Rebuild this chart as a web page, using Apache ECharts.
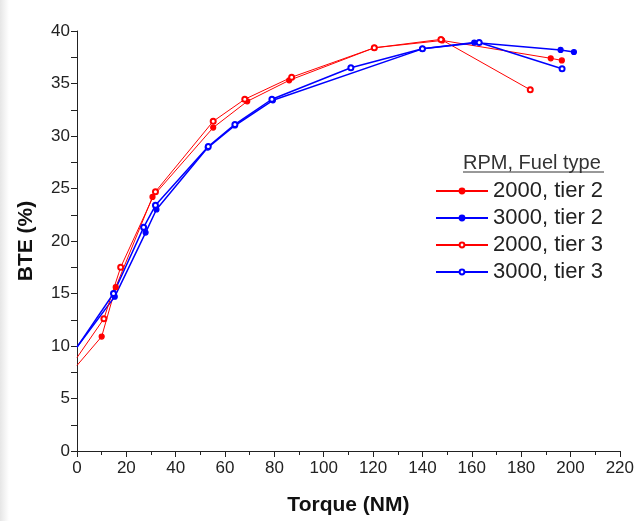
<!DOCTYPE html>
<html>
<head>
<meta charset="utf-8">
<script src="https://cdn.jsdelivr.net/npm/echarts@6/dist/echarts.min.js"></script>
<style>
  html, body { margin: 0; padding: 0; background: #fff; }
  #chart { width: 637px; height: 521px; background: linear-gradient(to right, #e6e6e6 0px, #fff 9px); }
</style>
</head>
<body>
<div id="chart"></div>
<script>
// torque (NM) and BTE (%)
var torque2000t2 = [0, 10, 15.7, 30.6, 55.2, 69, 86, 120.5, 148, 192, 196.5];
var bte2000t2 = [8.15, 10.9, 15.6, 24.2, 30.8, 33.3, 35.3, 38.4, 39.1, 37.4, 37.2];
var torque3000t2 = [0, 15.3, 27.8, 32.2, 53, 64, 79.4, 140, 161, 196, 201.4];
var bte3000t2 = [9.9, 14.7, 20.8, 23.0, 28.9, 31.0, 33.4, 38.3, 38.9, 38.2, 38.0];
var torque2000t3 = [0, 10.9, 17.7, 31.8, 55.2, 68, 87, 120.5, 147.5, 183.7];
var bte2000t3 = [8.9, 12.6, 17.5, 24.7, 31.4, 33.5, 35.6, 38.4, 39.2, 34.4];
var torque3000t3 = [0, 14.8, 27, 31.8, 53.2, 64, 79, 111, 140, 163, 196.6];
var bte3000t3 = [9.9, 15.0, 21.3, 23.4, 29.0, 31.1, 33.5, 36.5, 38.3, 38.9, 36.4];

var seriesNames = ['2000, tier 2', '3000, tier 2', '2000, tier 3', '3000, tier 3'];

function pts(xs, ys) {
    var list = [];
    for (var i = 0; i < xs.length; i++) {
        // first point is the line's start at the y axis, drawn without a marker
        if (i === 0) list.push({value: [xs[i], ys[i]], symbol: 'none'});
        else list.push([xs[i], ys[i]]);
    }
    return list;
}

function makeSeries(name, color, symbol, width, xs, ys) {
    return {
        name: name,
        type: 'line',
        symbol: symbol,
        symbolSize: 5,
        lineStyle: {color: color, width: width},
        itemStyle: {color: color, borderColor: color, borderWidth: 1.2},
        emphasis: {disabled: true},
        data: pts(xs, ys)
    };
}

var chart = echarts.init(document.getElementById('chart'));

var font = 'Liberation Sans, Arial, sans-serif';
var axisText = {color: '#222', fontSize: 17, fontFamily: font};
var nameText = {color: '#111', fontSize: 21, fontWeight: 'bold', fontFamily: font};

chart.setOption({
    animation: false,
    grid: {left: 77, right: 14, top: 31, bottom: 68},
    legend: {
        orient: 'vertical',
        left: 430,
        top: 175,
        itemWidth: 52,
        itemHeight: 6,
        itemGap: 5,
        data: seriesNames,
        textStyle: {color: '#222', fontSize: 22, fontFamily: font}
    },
    graphic: [
        {
            type: 'text', left: 463, top: 153,
            style: {text: 'RPM, Fuel type', fill: '#333', font: '20px Liberation Sans, Arial, sans-serif'}
        },
        {
            type: 'line', shape: {x1: 463, y1: 172, x2: 604, y2: 172},
            style: {stroke: '#333', lineWidth: 1}
        }
    ],
    xAxis: {
        type: 'value', min: 0, max: 220, interval: 20,
        name: 'Torque (NM)', nameLocation: 'middle', nameGap: 44, nameTextStyle: nameText,
        axisLine: {show: true, lineStyle: {color: '#222', width: 1}},
        axisTick: {show: true, length: 6, lineStyle: {color: '#222'}},
        minorTick: {show: true, splitNumber: 2, length: 4, lineStyle: {color: '#222'}},
        axisLabel: Object.assign({margin: 9}, axisText),
        splitLine: {show: false}
    },
    yAxis: {
        type: 'value', min: 0, max: 40, interval: 5,
        name: 'BTE (%)', nameLocation: 'middle', nameGap: 40, nameRotate: 90, nameTextStyle: nameText,
        axisLine: {show: true, lineStyle: {color: '#222', width: 1}},
        axisTick: {show: true, length: 6, lineStyle: {color: '#222'}},
        minorTick: {show: true, splitNumber: 2, length: 6, lineStyle: {color: '#222'}},
        axisLabel: Object.assign({margin: 7}, axisText),
        splitLine: {show: false}
    },
    series: [
        makeSeries(seriesNames[0], '#ff0000', 'circle', 1, torque2000t2, bte2000t2),
        makeSeries(seriesNames[1], '#0000ff', 'circle', 1.5, torque3000t2, bte3000t2),
        makeSeries(seriesNames[2], '#ff0000', 'emptyCircle', 1, torque2000t3, bte2000t3),
        makeSeries(seriesNames[3], '#0000ff', 'emptyCircle', 1.5, torque3000t3, bte3000t3)
    ]
});
</script>
</body>
</html>
